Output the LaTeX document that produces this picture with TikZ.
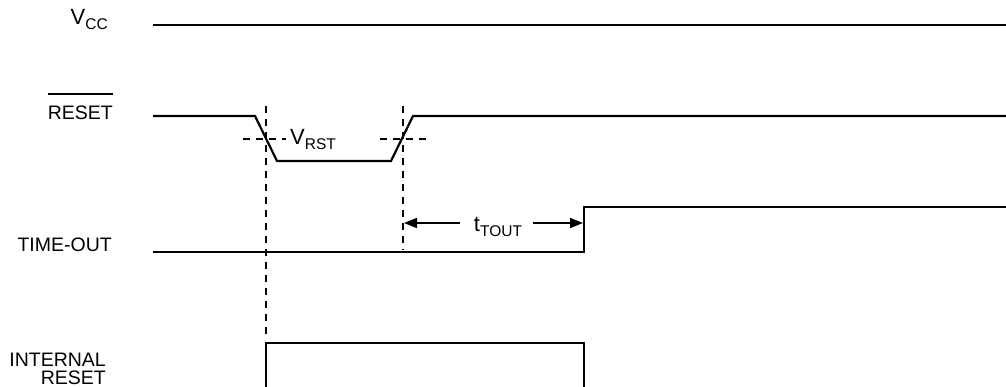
\documentclass[tikz,border=0pt]{standalone}
\usepackage{fontspec}
\setmainfont{Liberation Sans}
\usetikzlibrary{arrows.meta,calc}
\newcommand{\sigsub}[2]{{\fontsize{22}{22}\selectfont #1}\raisebox{-4.5pt}{\fontsize{15.5}{15}\selectfont #2}}

\begin{document}
\begin{tikzpicture}[x=1pt,y=-1pt,
  wave/.style={line width=2.2pt, line join=miter},
  guide/.style={line width=1.8pt, dash pattern=on 7pt off 6pt},
  arr/.style={line width=1.8pt, -{Triangle[length=13pt,width=10pt]}},
  lbl/.style={inner sep=0pt, anchor=base east, font=\fontsize{19.5}{17}\selectfont}]
\useasboundingbox (0,0) rectangle (1006,387);

% signal names
\node[lbl] (lvcc) at (108,25) {\sigsub{V}{CC}};
\node[lbl] (lrst) at (113,120) {RESET};
\draw[line width=1.8pt] ($(lrst.base west)+(0,-26)$) -- ($(lrst.base east)+(0,-26)$);
\node[lbl] (ltime) at (112,252) {TIME-OUT};
\node[lbl] (lint1) at (106,366) {INTERNAL};
\node[lbl] (lint2) at (106,384) {RESET};

% waveforms
\draw[wave] (153,25) -- (1006,25);
\draw[wave] (153,116) -- (255,116) -- (277,161) -- (391,161) -- (413,116) -- (1006,116);
\draw[wave] (153,252) -- (584,252) -- (584,207) -- (1006,207);
\draw[wave] (266,389) -- (266,343) -- (584,343) -- (584,389);

% threshold and guides
\draw[guide] (243,139) -- (286,139);
\draw[guide] (380,139) -- (426,139);
\draw[guide] (266,106) -- (266,338);
\draw[guide] (403,106) -- (403,250);
\node[inner sep=0pt, anchor=base west] (lvrst) at (290,145) {\sigsub{V}{RST}};

% time-out interval
\coordinate (tl) at (404,223);
\coordinate (tr) at (583,223);
\node[inner sep=0pt] (ltout) at (498,227) {\sigsub{t}{TOUT}};
\draw[arr] ([xshift=-14pt]ltout.west |- tl) -- (tl);
\draw[arr] ([xshift=11pt]ltout.east |- tr) -- (tr);
\end{tikzpicture}
\end{document}
